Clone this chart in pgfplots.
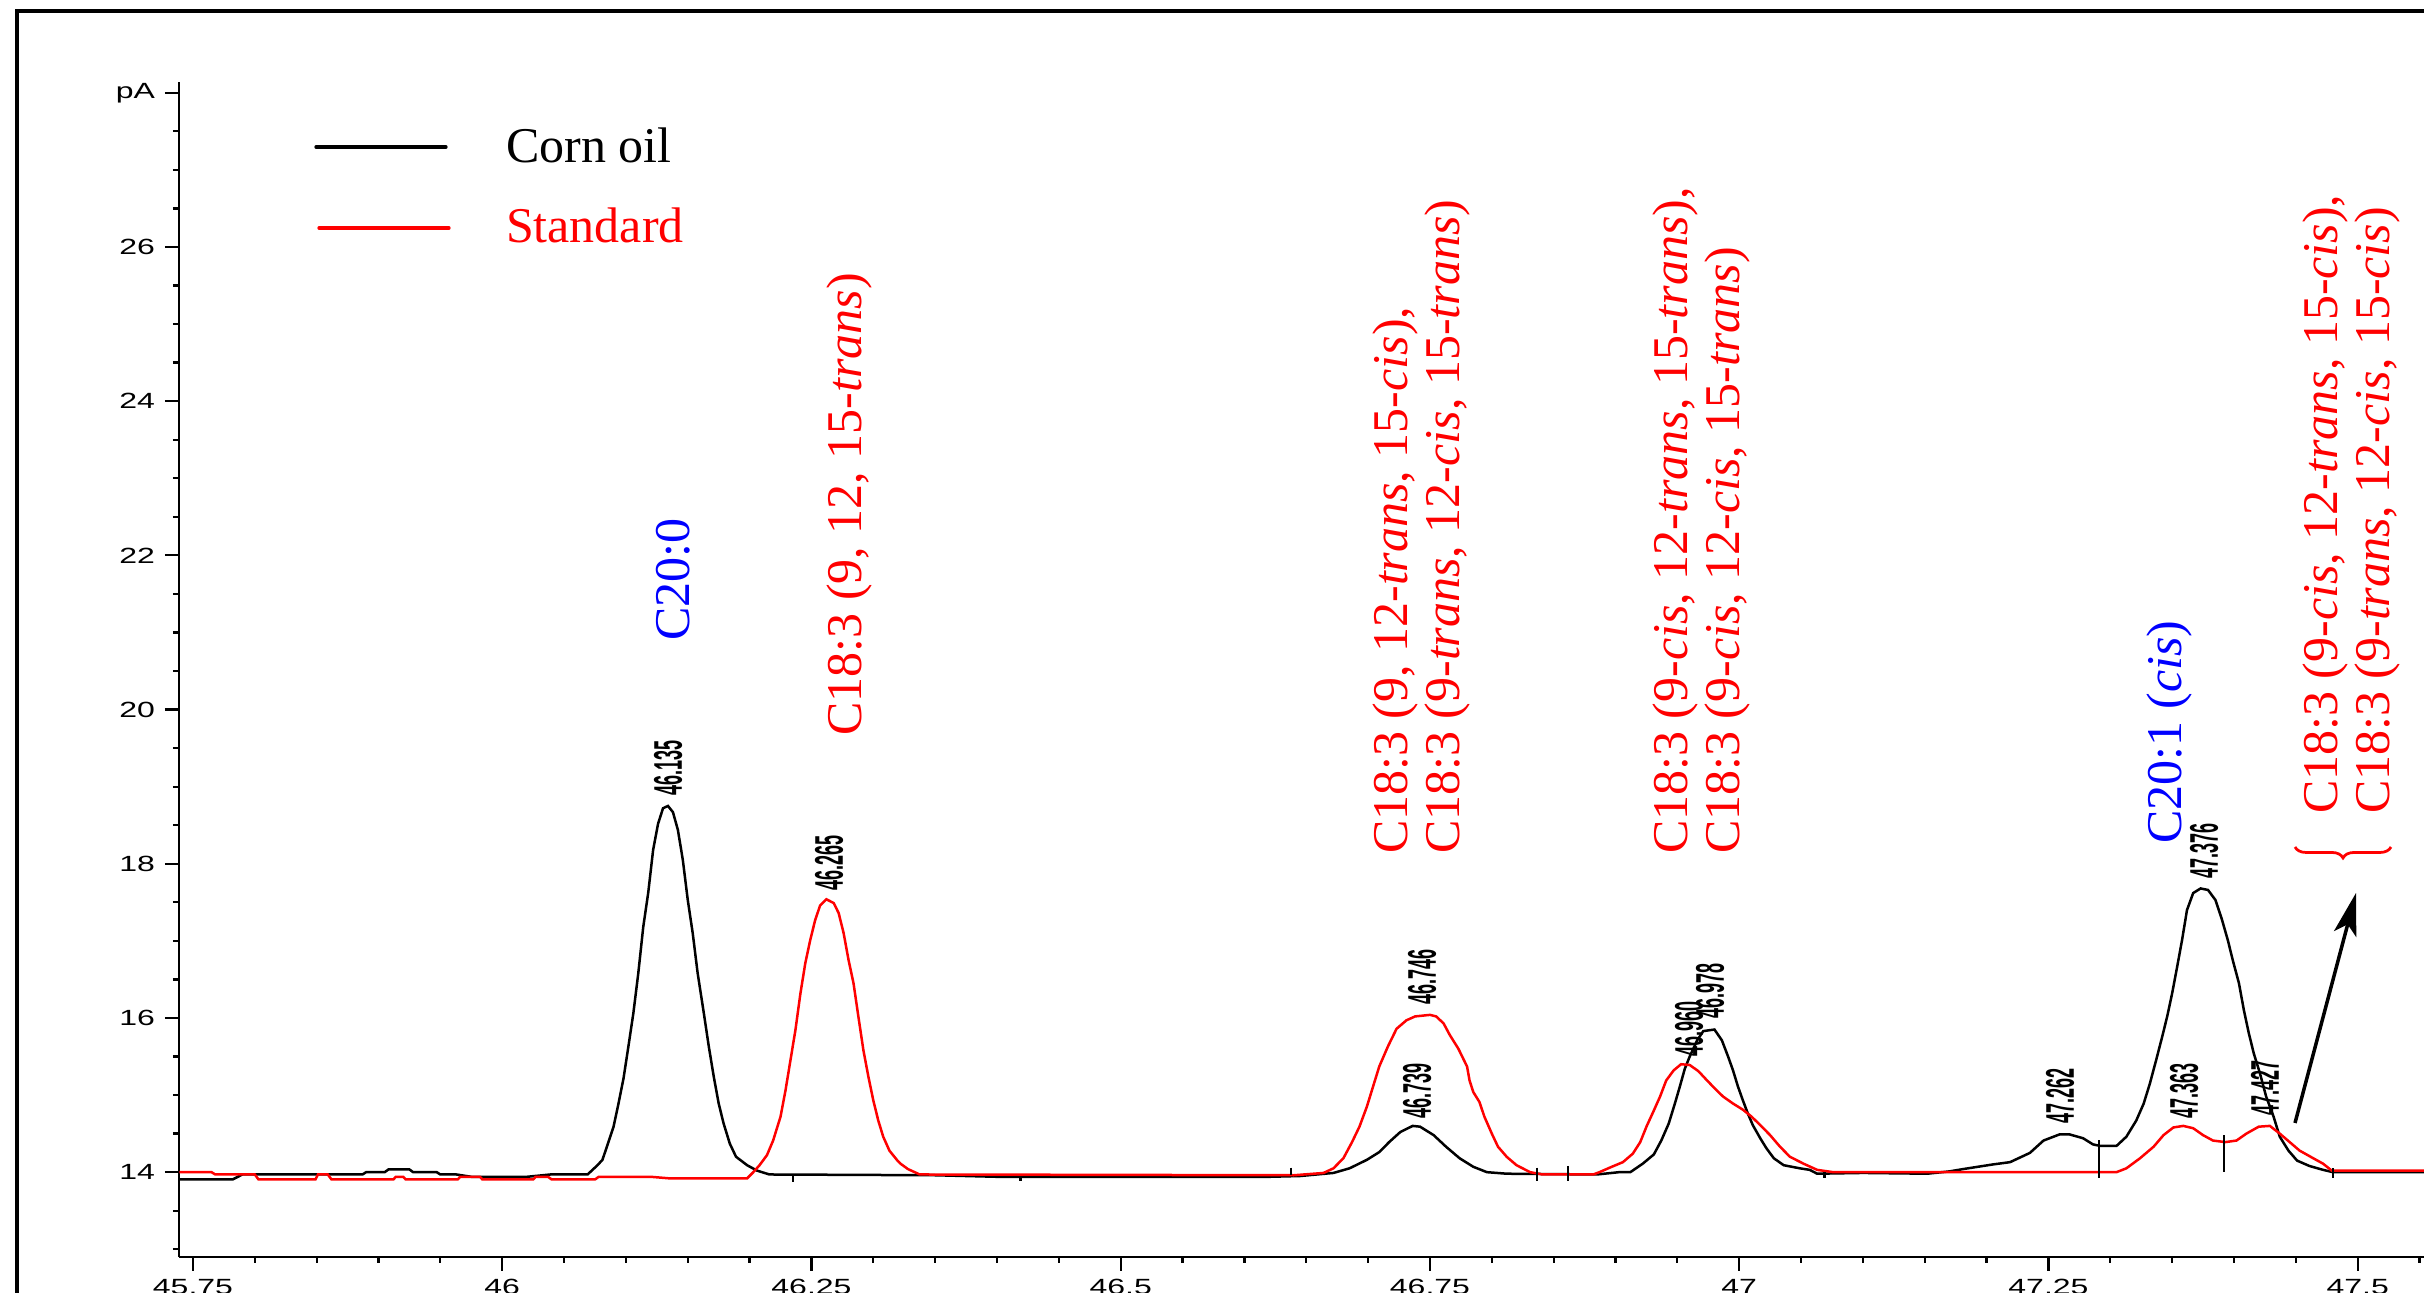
\documentclass[border=0pt]{standalone}
\usepackage{fontspec}
\setmainfont{Liberation Serif}
\setsansfont{Liberation Sans}
\usepackage{pgfplots}
\pgfplotsset{compat=1.18}
\usetikzlibrary{arrows.meta,decorations.pathreplacing}
\newcommand\tl[1]{\scalebox{0.8}[0.55]{\fontsize{8}{8}\selectfont\sffamily #1}}
\newcommand\rt[1]{\scalebox{0.45}[1]{\fontsize{8}{8}\selectfont\sffamily\bfseries #1}}
\begin{document}
\begin{tikzpicture}[x=1pt,y=1pt]
\begin{axis}[
  name=ax,
  at={(35.8pt,7.2pt)}, anchor=south west,
  scale only axis, width=449pt, height=235pt,
  xmin=45.7387, xmax=47.5536, ymin=12.9, ymax=28.14,
  axis x line=bottom, axis y line=left,
  axis line style={-, line width=0.45pt},
  tick align=outside,
  major tick length=2.8pt, minor tick length=1.2pt,
  every tick/.style={black, line width=0.45pt},
  xtick={45.75,46,46.25,46.5,46.75,47,47.25,47.5},
  xticklabels={\tl{45.75},\tl{46},\tl{46.25},\tl{46.5},\tl{46.75},\tl{47},\tl{47.25},\tl{47.5}},
  minor xtick={45.8,45.85,45.9,45.95,46.05,46.1,46.15,46.2,46.3,46.35,46.4,46.45,46.55,46.6,46.65,46.7,46.8,46.85,46.9,46.95,47.05,47.1,47.15,47.2,47.3,47.35,47.4,47.45,47.55},
  ytick={14,16,18,20,22,24,26,28},
  yticklabels={\tl{14},\tl{16},\tl{18},\tl{20},\tl{22},\tl{24},\tl{26},\tl{pA}},
  minor ytick={13,13.5,14.5,15,15.5,16.5,17,17.5,18.5,19,19.5,20.5,21,21.5,22.5,23,23.5,24.5,25,25.5,26.5,27,27.5},
  xticklabel style={anchor=north, inner sep=0pt, yshift=-1.4pt},
  yticklabel style={anchor=east, inner sep=0pt, xshift=-1.8pt},
]
% Corn oil
\addplot[black, line width=0.5pt] coordinates {
(45.739,13.905) (45.782,13.905) (45.79,13.97) (45.887,13.97) (45.89,14.00) (45.905,14.00)
(45.908,14.035) (45.925,14.035) (45.928,14.00) (45.947,14.00) (45.95,13.97) (45.963,13.97)
(45.975,13.94) (46.02,13.94) (46.039,13.97) (46.069,13.97)
(46.077,14.09) (46.081,14.16) (46.084,14.30) (46.090,14.59) (46.094,14.89) (46.098,15.21)
(46.102,15.63) (46.106,16.06) (46.110,16.58) (46.114,17.18) (46.118,17.62) (46.122,18.18)
(46.126,18.52) (46.130,18.72) (46.134,18.75) (46.138,18.67) (46.142,18.44) (46.146,18.05)
(46.150,17.53) (46.154,17.10) (46.158,16.58) (46.163,16.06) (46.167,15.63) (46.171,15.24)
(46.175,14.89) (46.179,14.63) (46.184,14.37) (46.189,14.20) (46.198,14.09) (46.206,14.02)
(46.216,13.97) (46.35,13.96) (46.40,13.94) (46.62,13.94)
(46.645,13.95) (46.672,13.99) (46.685,14.05) (46.699,14.16) (46.709,14.26) (46.717,14.39)
(46.726,14.52) (46.736,14.60) (46.742,14.59) (46.753,14.48) (46.763,14.33) (46.774,14.18)
(46.785,14.07) (46.796,14.00) (46.812,13.98) (46.885,13.97) (46.903,14.00)
(46.912,14.00) (46.922,14.11) (46.931,14.23) (46.937,14.41) (46.943,14.63) (46.948,14.89)
(46.952,15.11) (46.956,15.34) (46.960,15.50) (46.966,15.71) (46.971,15.83) (46.980,15.85)
(46.986,15.71) (46.991,15.50) (46.995,15.32) (46.999,15.11) (47.003,14.93) (47.007,14.76)
(47.011,14.61) (47.017,14.44) (47.022,14.31) (47.028,14.18) (47.036,14.09) (47.049,14.05)
(47.057,14.03) (47.063,13.98) (47.10,13.99) (47.152,13.98) (47.17,14.01)
(47.181,14.04) (47.205,14.10) (47.219,14.13) (47.227,14.19) (47.235,14.25) (47.246,14.41)
(47.259,14.49) (47.267,14.49) (47.278,14.44) (47.286,14.36) (47.292,14.34) (47.305,14.34)
(47.313,14.46) (47.321,14.67) (47.327,14.89) (47.332,15.15) (47.337,15.45) (47.342,15.76)
(47.346,16.02) (47.350,16.32) (47.354,16.66) (47.358,17.01) (47.362,17.40) (47.367,17.62)
(47.373,17.68) (47.379,17.66) (47.385,17.53) (47.390,17.29) (47.395,17.01) (47.399,16.75)
(47.404,16.45) (47.408,16.10) (47.412,15.80) (47.416,15.54) (47.421,15.28) (47.426,14.98)
(47.432,14.72) (47.437,14.46) (47.444,14.28) (47.451,14.15) (47.461,14.08) (47.472,14.03)
(47.480,14.00) (47.554,14.00)
};
% Standard
\addplot[red, line width=0.5pt] coordinates {
(45.739,14.00) (45.765,14.00) (45.768,13.97) (45.800,13.97) (45.803,13.905) (45.849,13.905)
(45.851,13.97) (45.859,13.97) (45.862,13.905) (45.912,13.905) (45.914,13.94) (45.92,13.94)
(45.922,13.905) (45.964,13.905) (45.966,13.94) (45.982,13.94) (45.984,13.905) (46.025,13.905)
(46.027,13.94) (46.037,13.94) (46.04,13.905) (46.075,13.905) (46.078,13.94) (46.12,13.94)
(46.135,13.92) (46.198,13.92)
(46.203,14.00) (46.208,14.09) (46.214,14.22) (46.219,14.41) (46.225,14.72) (46.229,15.06)
(46.233,15.45) (46.237,15.84) (46.241,16.31) (46.245,16.71) (46.249,17.01) (46.253,17.27)
(46.257,17.46) (46.262,17.54) (46.268,17.49) (46.272,17.36) (46.276,17.10) (46.280,16.75)
(46.284,16.45) (46.288,16.01) (46.292,15.58) (46.296,15.24) (46.300,14.93) (46.304,14.67)
(46.308,14.46) (46.313,14.28) (46.319,14.16) (46.322,14.11) (46.328,14.04) (46.3375,13.97)
(46.64,13.96)
(46.664,13.99) (46.672,14.05) (46.680,14.18) (46.687,14.39) (46.693,14.59) (46.699,14.85)
(46.704,15.11) (46.709,15.37) (46.716,15.63) (46.723,15.86) (46.731,15.97) (46.738,16.02)
(46.750,16.04) (46.755,16.02) (46.761,15.93) (46.766,15.78) (46.773,15.60) (46.780,15.37)
(46.782,15.19) (46.785,15.04) (46.790,14.91) (46.794,14.72) (46.800,14.50) (46.805,14.33)
(46.812,14.20) (46.820,14.09) (46.831,14.00) (46.841,13.97) (46.882,13.97) (46.887,14.00)
(46.897,14.07) (46.906,14.13) (46.914,14.24) (46.920,14.39) (46.925,14.59) (46.931,14.80)
(46.936,14.98) (46.941,15.19) (46.947,15.32) (46.953,15.40) (46.960,15.39) (46.967,15.31)
(46.974,15.19) (46.980,15.09) (46.987,14.98) (46.995,14.89) (47.003,14.81) (47.010,14.72)
(47.017,14.61) (47.025,14.48) (47.033,14.33) (47.041,14.20) (47.052,14.11) (47.063,14.03)
(47.076,14.00) (47.305,14.00)
(47.313,14.05) (47.324,14.18) (47.335,14.33) (47.343,14.48) (47.351,14.58) (47.359,14.60)
(47.367,14.57) (47.375,14.48) (47.383,14.41) (47.393,14.39) (47.402,14.41) (47.410,14.50)
(47.420,14.59) (47.429,14.60) (47.437,14.50) (47.445,14.39) (47.453,14.28) (47.463,14.19)
(47.472,14.11) (47.479,14.02) (47.554,14.02)
};
% integration marks
\addplot[black, line width=0.45pt] coordinates {(46.235,13.96) (46.235,13.87)};
\addplot[black, line width=0.45pt] coordinates {(46.419,13.94) (46.419,13.88)};
\addplot[black, line width=0.45pt] coordinates {(46.6375,14.06) (46.6375,13.96)};
\addplot[black, line width=0.45pt] coordinates {(46.8365,14.06) (46.8365,13.89)};
\addplot[black, line width=0.45pt] coordinates {(46.8616,14.08) (46.8616,13.88)};
\addplot[black, line width=0.45pt] coordinates {(47.069,14.00) (47.069,13.92)};
\addplot[black, line width=0.45pt] coordinates {(47.2908,14.415) (47.2908,13.93)};
\addplot[black, line width=0.45pt] coordinates {(47.3919,14.48) (47.3919,14.00)};
\addplot[black, line width=0.45pt] coordinates {(47.48,14.05) (47.48,13.93)};
\end{axis}
% frame
\draw[line width=0.8pt] (3.4,-20) rectangle (520,256.4);
% legend
\draw[black, line width=0.66pt, line cap=round] (63.2,229.2) -- (89.2,229.2);
\draw[red, line width=0.66pt, line cap=round] (63.8,213) -- (89.8,213);
\node[anchor=base west, inner sep=0pt, font=\fontsize{10}{10}\selectfont] at (101,226) {Corn oil};
\node[anchor=base west, inner sep=0pt, red, font=\fontsize{10}{10}\selectfont] at (101,210) {Standard};
% compound labels
\begin{scope}[every node/.style={rotate=90, anchor=base west, inner sep=0pt, font=\fontsize{10}{10}\selectfont}]
\node[blue] at (137.8,130.3) {C20:0};
\node[red] at (172.2,111.3) {C18:3 (9, 12, 15-\textit{trans})};
\node[red] at (281.4,87.6) {C18:3 (9, 12-\textit{trans}, 15-\textit{cis}),};
\node[red] at (291.8,87.6) {C18:3 (9-\textit{trans}, 12-\textit{cis}, 15-\textit{trans})};
\node[red] at (337.4,87.6) {C18:3 (9-\textit{cis}, 12-\textit{trans}, 15-\textit{trans}),};
\node[red] at (347.8,87.6) {C18:3 (9-\textit{cis}, 12-\textit{cis}, 15-\textit{trans})};
\node[blue] at (436.2,89.6) {C20:1 (\textit{cis})};
\node[red] at (467.4,95.6) {C18:3 (9-\textit{cis}, 12-\textit{trans}, 15-\textit{cis}),};
\node[red] at (477.8,95.6) {C18:3 (9-\textit{trans}, 12-\textit{cis}, 15-\textit{cis})};
\end{scope}
\draw[red, line width=0.55pt, decorate, decoration={brace, amplitude=2.2pt}] (478.2,89.2) -- (459,89.2);
\draw[black, line width=0.7pt, -{Stealth[length=8.5pt,width=4.6pt,inset=2pt]}] (459,34) -- (471.2,80);
% retention time labels
\begin{scope}[every node/.style={rotate=90, anchor=west, inner sep=0pt, black}]
\node at (133.6,99.2) {\rt{46.135}};
\node at (165.8,80.2) {\rt{46.265}};
\node at (283.4,34.6) {\rt{46.739}};
\node at (284.4,57.4) {\rt{46.746}};
\node at (337.8,47) {\rt{46.960}};
\node at (342,54.6) {\rt{46.978}};
\node at (412,33.6) {\rt{47.262}};
\node at (440.8,82.6) {\rt{47.376}};
\node at (436.8,34.6) {\rt{47.363}};
\node at (453,35.2) {\rt{47.427}};
\end{scope}
\pgfresetboundingbox
\useasboundingbox (0,0) rectangle (484.8,258.6);
\end{tikzpicture}
\end{document}
